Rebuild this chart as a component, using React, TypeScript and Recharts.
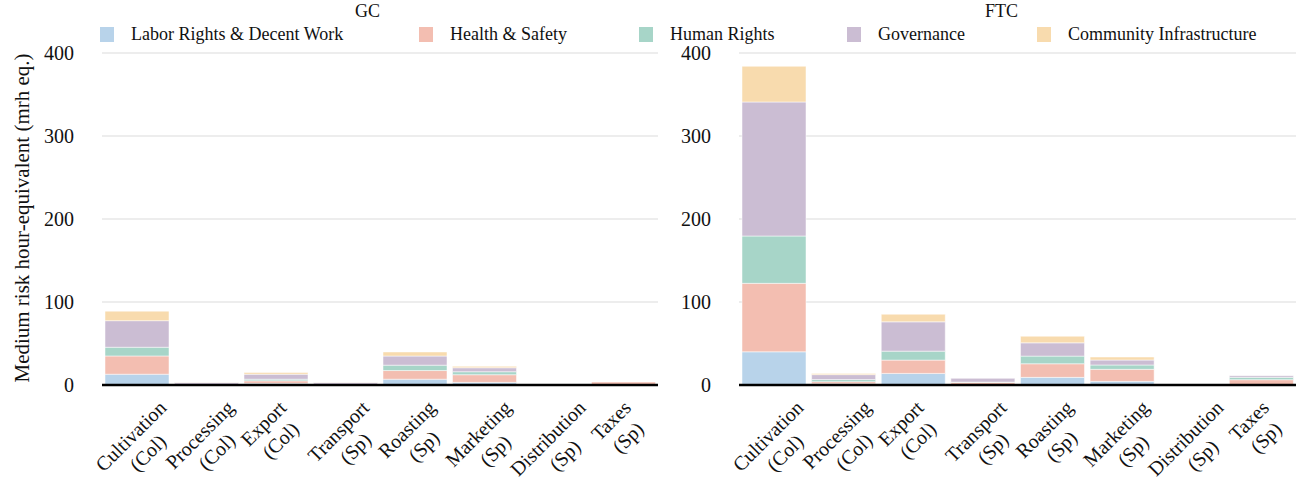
import React from "react";
import { BarChart, Bar, XAxis, YAxis, CartesianGrid } from "recharts";

const FONT = "'Liberation Serif', 'Times New Roman', serif";

const categories = [
  "Cultivation (Col)",
  "Processing (Col)",
  "Export (Col)",
  "Transport (Sp)",
  "Roasting (Sp)",
  "Marketing (Sp)",
  "Distribution (Sp)",
  "Taxes (Sp)",
];

const seriesNames = [
  "Labor Rights & Decent Work",
  "Health & Safety",
  "Human Rights",
  "Governance",
  "Community Infrastructure",
];
const seriesKeys = ["labor", "health", "human", "gov", "comm"];
const seriesColors = ["#b8d3ea", "#f3beb1", "#a7d5c8", "#cbbdd3", "#f8dbae"];

// GC
const gcLabor = [13, 0.4, 2, 0.4, 7, 3.2, 0, 0.3];
const gcHealth = [22, 0.4, 3, 0.4, 10.4, 9.2, 0, 3.3];
const gcHuman = [10.5, 0.3, 2, 0.3, 6.5, 3.6, 0, 0];
const gcGov = [32, 2, 6, 2, 11, 4.8, 0, 0];
const gcComm = [11.5, 0.3, 2, 0.3, 4.9, 1.7, 0, 0];

// FTC
const ftcLabor = [40, 1.5, 14, 0.5, 9.2, 4.4, 0, 0.3];
const ftcHealth = [82.5, 2.5, 16, 2.7, 16.4, 14.5, 0, 6.1];
const ftcHuman = [57, 2.5, 10.8, 0.3, 9.2, 5.2, 0, 2.8];
const ftcGov = [161.5, 6, 35.3, 4.5, 16, 6, 0, 2];
const ftcComm = [43, 1.5, 9.2, 0, 8, 3.6, 0, 0];

const yTicks = [0, 100, 200, 300, 400];

function buildRows(cols: number[][]) {
  return categories.map((name, i) => {
    const row: Record<string, number | string> = { name };
    seriesKeys.forEach((k, j) => (row[k] = cols[j][i]));
    return row;
  });
}

const gcData = buildRows([gcLabor, gcHealth, gcHuman, gcGov, gcComm]);
const ftcData = buildRows([ftcLabor, ftcHealth, ftcHuman, ftcGov, ftcComm]);

const TICK_SIZE = 20;

let ctx: CanvasRenderingContext2D | null = null;
function measure(text: string) {
  if (!ctx) ctx = document.createElement("canvas").getContext("2d");
  if (!ctx) return text.length * 9;
  ctx.font = `${TICK_SIZE}px ${FONT}`;
  return ctx.measureText(text).width;
}

// rotated two-line label, lines centred, block centred under the tick
function StageTick(props: any) {
  const { x, payload } = props;
  const label: string = payload.value;
  const cut = label.lastIndexOf(" ");
  const lines = [label.slice(0, cut), label.slice(cut + 1)];
  const s = Math.SQRT1_2;
  const h = TICK_SIZE;
  const lh = 24;
  const parts = lines.map((t, i) => {
    const w = measure(t);
    return { t, w, cx: i * lh * s, cy: i * lh * s };
  });
  const xmin = Math.min(...parts.map((p) => p.cx - ((p.w + h) * s) / 2));
  const xmax = Math.max(...parts.map((p) => p.cx + ((p.w + h) * s) / 2));
  const ymin = Math.min(...parts.map((p) => p.cy - ((p.w + h) * s) / 2));
  const dx = x - 6 - (xmin + xmax) / 2;
  const dy = 397 - ymin;
  return (
    <g>
      {parts.map((p, i) => {
        const cx = p.cx + dx;
        const cy = p.cy + dy;
        return (
          <text
            key={i}
            x={cx}
            y={cy}
            textAnchor="middle"
            dominantBaseline="central"
            transform={`rotate(-45, ${cx}, ${cy})`}
            fontFamily={FONT}
            fontSize={TICK_SIZE}
            fill="#111"
          >
            {p.t}
          </text>
        );
      })}
    </g>
  );
}

function Panel({
  data,
  width,
  axisWidth,
  right,
}: {
  data: Record<string, number | string>[];
  width: number;
  axisWidth: number;
  right: number;
}) {
  return (
    <BarChart
      width={width}
      height={481}
      data={data}
      margin={{ top: 53, right, bottom: 0, left: 0 }}
      barCategoryGap={3}
    >
      <CartesianGrid vertical={false} stroke="#dcdcdc" strokeWidth={1.2} />
      <XAxis
        dataKey="name"
        interval={0}
        height={96}
        tickLine={false}
        axisLine={{ stroke: "#000", strokeWidth: 2.5 }}
        tick={<StageTick />}
      />
      <YAxis
        width={axisWidth}
        domain={[0, 400]}
        ticks={yTicks}
        axisLine={false}
        tickLine={false}
        tickSize={0}
        tickMargin={28}
        tick={{ fontFamily: FONT, fontSize: 20, fill: "#111" }}
      />
      {seriesKeys.map((k, j) => (
        <Bar
          key={k}
          dataKey={k}
          name={seriesNames[j]}
          stackId="a"
          fill={seriesColors[j]}
          stroke="#fff"
          strokeWidth={0.5}
          isAnimationActive={false}
        />
      ))}
    </BarChart>
  );
}

const legendX = [100, 419, 639, 847, 1037];

export default function App() {
  return (
    <div
      style={{
        position: "absolute",
        left: 0,
        top: 0,
        width: 1300,
        height: 481,
        background: "#fff",
        fontFamily: FONT,
        color: "#111",
      }}
    >
      <div style={{ position: "absolute", left: 0, top: 0 }}>
        <Panel data={gcData} width={660} axisWidth={102} right={2} />
      </div>
      <div style={{ position: "absolute", left: 660, top: 0 }}>
        <Panel data={ftcData} width={640} axisWidth={79} right={4} />
      </div>

      {/* panel titles */}
      <div style={{ position: "absolute", left: 355, top: 1, fontSize: 18 }}>GC</div>
      <div style={{ position: "absolute", left: 985, top: 1, fontSize: 18 }}>FTC</div>

      {/* legend */}
      {seriesNames.map((n, j) => (
        <div
          key={n}
          style={{
            position: "absolute",
            left: legendX[j],
            top: 24,
            display: "flex",
            alignItems: "center",
            fontSize: 18,
            whiteSpace: "nowrap",
          }}
        >
          <span
            style={{
              display: "inline-block",
              width: 14,
              height: 15,
              background: seriesColors[j],
              marginRight: 17,
            }}
          />
          {n}
        </div>
      ))}

      {/* y axis title */}
      <div
        style={{
          position: "absolute",
          left: 22,
          top: 218,
          transform: "translate(-50%, -50%) rotate(-90deg)",
          fontSize: 21,
          whiteSpace: "nowrap",
        }}
      >
        Medium risk hour-equivalent (mrh eq.)
      </div>
    </div>
  );
}
